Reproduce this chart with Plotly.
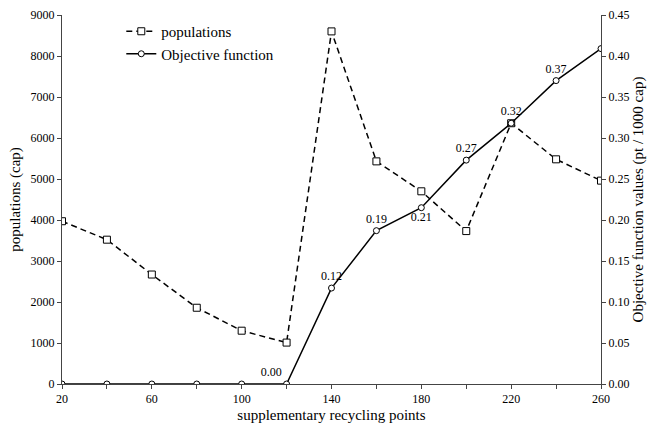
import plotly.graph_objects as go

x_points = [20, 40, 60, 80, 100, 120, 140, 160, 180, 200, 220, 240, 260]
populations = [3970, 3520, 2670, 1860, 1300, 1010, 8600, 5430, 4700, 3730, 6360, 5480, 4960]
objective = [0.0, 0.0, 0.0, 0.0, 0.0, 0.0, 0.117, 0.187, 0.215, 0.273, 0.318, 0.370, 0.409]
obj_labels = ["", "", "", "", "", "0.00", "0.12", "0.19", "0.21", "0.27", "0.32", "0.37", ""]
label_pos = ["top center"] * 5 + ["top left", "top center", "top center", "bottom center",
                                  "top center", "top center", "top center", "top center"]

FONT = "Liberation Serif"

fig = go.Figure()
fig.add_trace(go.Scatter(
    x=x_points, y=populations, name="populations", mode="lines+markers",
    line=dict(color="black", width=1.5, dash="6px,4px"),
    marker=dict(symbol="square", size=7, color="white", line=dict(color="black", width=1)),
    yaxis="y",
))
fig.add_trace(go.Scatter(
    x=x_points, y=objective, name="Objective function", mode="lines+markers+text",
    line=dict(color="black", width=1.5),
    marker=dict(symbol="circle", size=6, color="white", line=dict(color="black", width=1)),
    text=obj_labels, textposition=label_pos, textfont=dict(family=FONT, size=12, color="black"),
    yaxis="y2",
))

axis_common = dict(
    showgrid=False, zeroline=False, showline=True, linecolor="#444", linewidth=1,
    ticks="outside", ticklen=4, tickcolor="#444", automargin=False,
    tickfont=dict(family=FONT, size=12, color="black"),
)

fig.update_layout(
    width=662, height=429,
    margin=dict(l=62, r=61, t=15, b=45),
    paper_bgcolor="white", plot_bgcolor="white",
    font=dict(family=FONT, size=15, color="black"),
    showlegend=True,
    legend=dict(x=0.11, y=1.0, xanchor="left", yanchor="top", bgcolor="rgba(0,0,0,0)",
                font=dict(family=FONT, size=15), itemwidth=30, tracegroupgap=0),
    xaxis=dict(range=[20, 260], tickvals=list(range(20, 261, 20)),
               ticktext=[str(v) if (v - 20) % 40 == 0 else "" for v in range(20, 261, 20)],
               title=dict(text="supplementary recycling points", font=dict(family=FONT, size=15), standoff=4),
               **axis_common),
    yaxis=dict(range=[0, 9000], dtick=1000,
               title=dict(text="populations (cap)", font=dict(family=FONT, size=15), standoff=6),
               **axis_common),
    yaxis2=dict(range=[0, 0.45], dtick=0.05, tickformat=".2f", overlaying="y", side="right",
                title=dict(text="Objective function values (pt / 1000 cap)", font=dict(family=FONT, size=15), standoff=4),
                **axis_common),
)

fig.write_html("out.html", config={"displayModeBar": False},
               post_script="document.body.style.margin='0';document.body.style.padding='0';document.body.style.overflow='hidden';")
